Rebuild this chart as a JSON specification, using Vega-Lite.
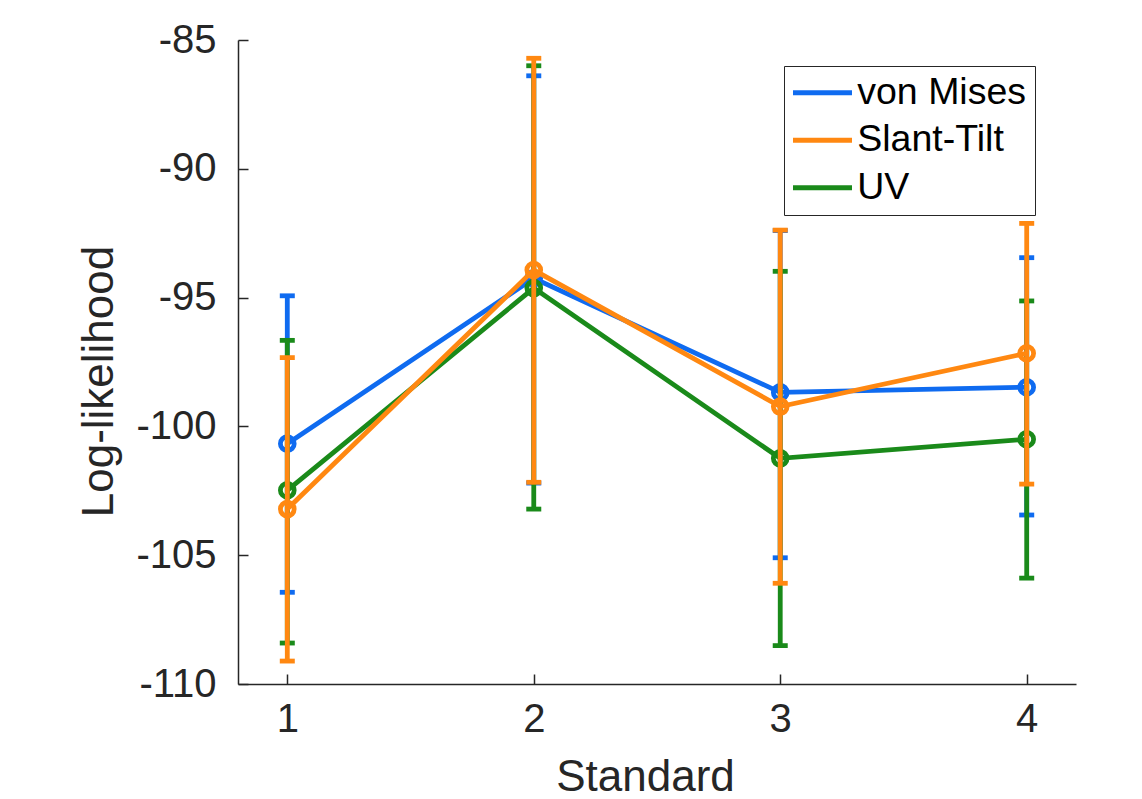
{
  "$schema": "https://vega.github.io/schema/vega-lite/v6.json",
  "autosize": "none",
  "width": 838,
  "height": 644,
  "padding": {"left": 238, "top": 40, "right": 66, "bottom": 115},
  "background": "white",
  "config": {
    "view": {"stroke": null},
    "font": "Liberation Sans",
    "axis": {
      "grid": false,
      "domainColor": "#262626",
      "domainWidth": 1.5,
      "tickColor": "#262626",
      "tickWidth": 1.5,
      "tickSize": -10,
      "labelFont": "Liberation Sans",
      "labelFontSize": 40,
      "labelColor": "#262626",
      "titleFont": "Liberation Sans",
      "titleFontSize": 44,
      "titleFontWeight": "normal",
      "titleColor": "#262626"
    },
    "legend": {
      "orient": "none",
      "legendX": 546,
      "legendY": 26,
      "fillColor": "white",
      "strokeColor": "#262626",
      "padding": 8,
      "labelFont": "Liberation Sans",
      "labelFontSize": 37.5,
      "labelColor": "#000000",
      "labelOffset": 16,
      "symbolType": "M-2,0H2",
      "symbolSize": 870,
      "symbolOffset": 11.75,
      "symbolStrokeWidth": 4.8,
      "symbolOpacity": 1,
      "rowPadding": 8.5,
      "labelLimit": 400
    }
  },
  "data": {
    "values": [
      {"model": "von Mises", "standard": 1, "mean": -100.67, "lo": -106.44, "hi": -94.93},
      {"model": "von Mises", "standard": 2, "mean": -94.25, "lo": -102.2, "hi": -86.39},
      {"model": "von Mises", "standard": 3, "mean": -98.68, "lo": -105.1, "hi": -92.4},
      {"model": "von Mises", "standard": 4, "mean": -98.48, "lo": -103.44, "hi": -93.45},
      {"model": "UV", "standard": 1, "mean": -102.48, "lo": -108.41, "hi": -96.66},
      {"model": "UV", "standard": 2, "mean": -94.63, "lo": -103.21, "hi": -86.0},
      {"model": "UV", "standard": 3, "mean": -101.24, "lo": -108.51, "hi": -93.98},
      {"model": "UV", "standard": 4, "mean": -100.5, "lo": -105.89, "hi": -95.13},
      {"model": "Slant-Tilt", "standard": 1, "mean": -103.21, "lo": -109.11, "hi": -97.33},
      {"model": "Slant-Tilt", "standard": 2, "mean": -93.93, "lo": -102.17, "hi": -85.71},
      {"model": "Slant-Tilt", "standard": 3, "mean": -99.23, "lo": -106.09, "hi": -92.38},
      {"model": "Slant-Tilt", "standard": 4, "mean": -97.16, "lo": -102.24, "hi": -92.12}
    ]
  },
  "encoding": {
    "x": {
      "field": "standard",
      "type": "quantitative",
      "scale": {"domain": [0.8, 4.2], "nice": false, "zero": false},
      "axis": {
        "title": "Standard",
        "values": [1, 2, 3, 4],
        "format": "d",
        "labelPadding": 25,
        "titleBaseline": "alphabetic",
        "titleX": 407,
        "titleY": 106
      }
    },
    "y": {
      "field": "mean",
      "type": "quantitative",
      "scale": {"domain": [-110, -85], "nice": false, "zero": false},
      "axis": {
        "title": "Log-likelihood",
        "values": [-110, -105, -100, -95, -90, -85],
        "labelExpr": "datum.value + ''",
        "labelPadding": 32,
        "titleAngle": -90,
        "titleBaseline": "alphabetic",
        "titleAlign": "center",
        "titleX": -126,
        "titleY": 341
      }
    },
    "color": {
      "field": "model",
      "type": "nominal",
      "scale": {
        "domain": ["von Mises", "Slant-Tilt", "UV"],
        "range": ["#0F6BF0", "#FF8811", "#1A8A1A"]
      },
      "legend": {"title": null, "labelExpr": "datum.label + '\u00a0\u00a0'"}
    }
  },
  "layer": [
    {
      "transform": [{"filter": "datum.model === 'von Mises'"}],
      "layer": [
        {"mark": {"type": "errorbar", "ticks": {"opacity": 1}, "rule": {"opacity": 1}, "thickness": 4.8, "size": 15},
         "encoding": {"y": {"field": "lo", "type": "quantitative", "title": "Log-likelihood"}, "y2": {"field": "hi"}}},
        {"mark": {"type": "line", "strokeWidth": 4.8}, "encoding": {}},
        {"mark": {"type": "point", "shape": "circle", "filled": false, "size": 190, "strokeWidth": 4.8, "opacity": 1}, "encoding": {}}
      ]
    },
    {
      "transform": [{"filter": "datum.model === 'UV'"}],
      "layer": [
        {"mark": {"type": "errorbar", "ticks": {"opacity": 1}, "rule": {"opacity": 1}, "thickness": 4.8, "size": 15},
         "encoding": {"y": {"field": "lo", "type": "quantitative", "title": "Log-likelihood"}, "y2": {"field": "hi"}}},
        {"mark": {"type": "line", "strokeWidth": 4.8}, "encoding": {}},
        {"mark": {"type": "point", "shape": "circle", "filled": false, "size": 190, "strokeWidth": 4.8, "opacity": 1}, "encoding": {}}
      ]
    },
    {
      "transform": [{"filter": "datum.model === 'Slant-Tilt'"}],
      "layer": [
        {"mark": {"type": "errorbar", "ticks": {"opacity": 1}, "rule": {"opacity": 1}, "thickness": 4.8, "size": 15},
         "encoding": {"y": {"field": "lo", "type": "quantitative", "title": "Log-likelihood"}, "y2": {"field": "hi"}}},
        {"mark": {"type": "line", "strokeWidth": 4.8}, "encoding": {}},
        {"mark": {"type": "point", "shape": "circle", "filled": false, "size": 190, "strokeWidth": 4.8, "opacity": 1}, "encoding": {}}
      ]
    }
  ]
}
